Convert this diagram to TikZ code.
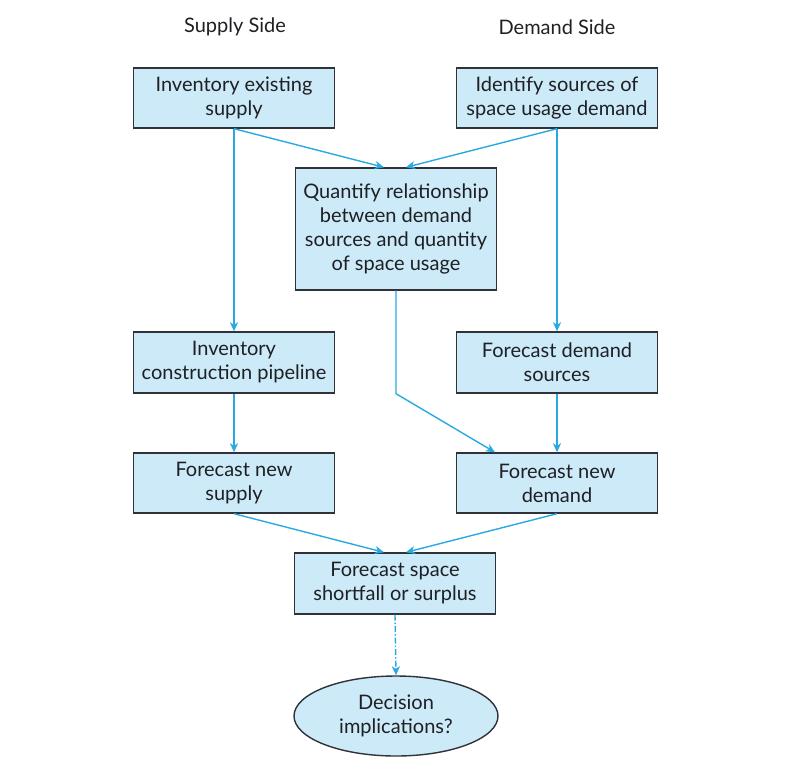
\documentclass[tikz,border=0pt]{standalone}
\usepackage{fontspec}
\setmainfont{Lato}
\usetikzlibrary{arrows.meta,shapes.geometric}
\definecolor{boxfill}{HTML}{CDEAF8}
\definecolor{boxline}{HTML}{2F3236}
\definecolor{flowblue}{HTML}{29A9E1}
\definecolor{textgray}{HTML}{1E2024}

\begin{document}
\begin{tikzpicture}[x=1pt,y=-1pt,
    stepbox/.style={draw=boxline, line width=1.4pt, fill=boxfill, text=textgray,
      minimum width=201pt, minimum height=60pt, align=center, inner sep=2pt,
      font=\fontsize{20}{24}\selectfont},
    flow/.style={draw=flowblue, line width=1.4pt, -{Stealth[length=9pt,width=8pt,inset=2.5pt]}},
    sidelabel/.style={text=textgray, font=\fontsize{20}{22}\selectfont}]
    \useasboundingbox (0,0) rectangle (790,772);

    % Headings
    \node[sidelabel] (supply) at (235,27) {Supply Side};
    \node[sidelabel] (demand) at (557,27) {Demand Side};

    % Boxes
    \node[stepbox] (exist) at (234,98) {Inventory existing\\supply};
    \node[stepbox] (sources) at (557,98) {Identify sources of\\space usage demand};
    \node[stepbox, minimum height=122pt] (quantify) at (396,229)
        {Quantify relationship\\between demand\\sources and quantity\\of space usage};
    \node[stepbox, minimum height=61pt] (pipeline) at (234,362.5) {Inventory\\construction pipeline};
    \node[stepbox, minimum height=61pt] (fcdemand) at (557,362.5) {Forecast demand\\sources};
    \node[stepbox] (newsupply) at (234,483) {Forecast new\\supply};
    \node[stepbox] (newdemand) at (557,483) {Forecast new\\demand};
    \node[stepbox, minimum height=61pt] (gap) at (395,583.5) {Forecast space\\shortfall or surplus};
    \node[ellipse, draw=boxline, line width=1.4pt, fill=boxfill, text=textgray,
        minimum width=204pt, minimum height=80pt, align=center, inner sep=0pt,
        font=\fontsize{20}{24}\selectfont] (decide) at (396,716) {Decision\\implications?};

    % Connectors
    \draw[flow] (exist.south) -- ([xshift=-12pt]quantify.north);
    \draw[flow] (sources.south) -- ([xshift=10pt]quantify.north);
    \draw[flow] (exist.south) -- (pipeline.north);
    \draw[flow] (sources.south) -- (fcdemand.north);
    \draw[flow] (quantify.south) -- (quantify.south |- fcdemand.south) -- ([xshift=-62pt]newdemand.north);
    \draw[flow] (pipeline.south) -- (newsupply.north);
    \draw[flow] (fcdemand.south) -- (newdemand.north);
    \draw[flow] (newsupply.south) -- ([xshift=-11pt]gap.north);
    \draw[flow] (newdemand.south) -- ([xshift=11pt]gap.north);
    \draw[flow, dash pattern=on 6pt off 2pt on 1.5pt off 2pt] (gap.south) -- (decide.north);
\end{tikzpicture}
\end{document}
